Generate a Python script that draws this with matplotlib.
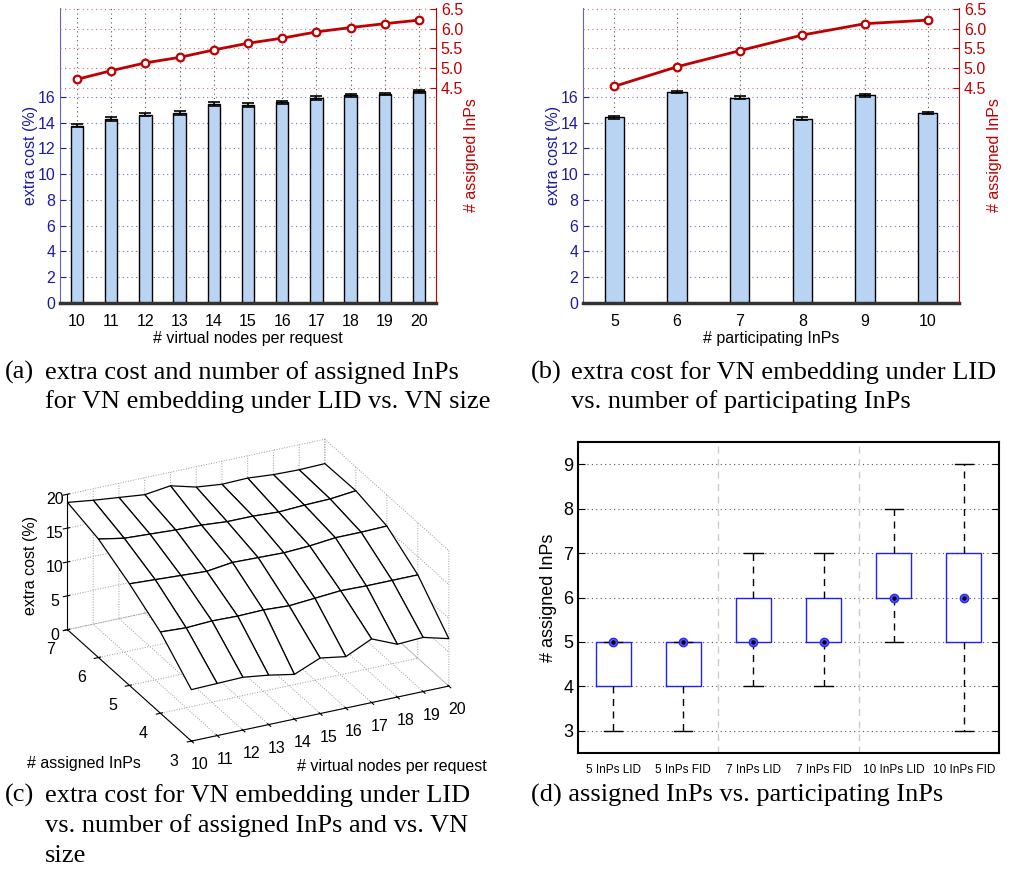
import numpy as np
import matplotlib
matplotlib.use('Agg')
import matplotlib.pyplot as plt
from matplotlib.ticker import FormatStrFormatter

plt.rcParams['font.family'] = ['Liberation Sans', 'DejaVu Sans']

# (a) extra cost / assigned InPs vs VN size
vn_sizes = [10, 11, 12, 13, 14, 15, 16, 17, 18, 19, 20]
cost_a = [13.75, 14.25, 14.6, 14.75, 15.45, 15.38, 15.58, 15.9, 16.12, 16.22, 16.45]
err_a = [0.12, 0.15, 0.12, 0.15, 0.12, 0.14, 0.12, 0.13, 0.1, 0.1, 0.12]
inps_a = [4.71, 4.93, 5.13, 5.27, 5.46, 5.63, 5.76, 5.92, 6.03, 6.13, 6.22]

# (b) extra cost / assigned InPs vs participating InPs
part_inps = [5, 6, 7, 8, 9, 10]
cost_b = [14.42, 16.38, 15.95, 14.32, 16.12, 14.76]
err_b = [0.12, 0.1, 0.1, 0.1, 0.1, 0.1]
inps_b = [4.53, 5.03, 5.44, 5.84, 6.13, 6.22]

# (c) extra cost surface: rows = assigned InPs, cols = VN size
assigned = [3, 4, 5, 6, 7]
cost_c = [
    [7.6, 7.7, 7.8, 7.3, 6.6, 8.2, 7.6, 9.4, 7.8, 8.0, 7.0],
    [12.0, 11.8, 12.0, 11.9, 12.0, 11.8, 12.1, 12.4, 12.3, 12.3, 12.3],
    [15.0, 14.8, 14.6, 14.4, 14.9, 14.8, 14.7, 14.9, 15.3, 15.3, 15.4],
    [17.5, 16.8, 16.6, 16.4, 16.3, 16.0, 16.0, 15.8, 16.0, 16.1, 16.5],
    [18.8, 18.3, 17.9, 17.5, 18.0, 17.0, 16.6, 16.7, 16.4, 16.3, 16.4],
]

# (d) boxplot stats
box_labels = ['5 InPs LID', '5 InPs FID', '7 InPs LID', '7 InPs FID', '10 InPs LID', '10 InPs FID']
whis_lo = [3, 3, 4, 4, 5, 3]
q1 = [4, 4, 5, 5, 6, 5]
med = [5, 5, 5, 5, 6, 6]
q3 = [5, 5, 6, 6, 7, 7]
whis_hi = [5, 5, 7, 7, 8, 9]

BLUE = '#1c1ca0'
BLUE_SP = '#6262bf'
RED = '#c00000'
BARC = '#b9d3f2'

fig = plt.figure(figsize=(10.15, 8.72), dpi=100)


def bar_panel(rect, xs, cost, err, inps, xlabel, width, xlim):
    ax = fig.add_axes(rect)
    ax.bar(xs, cost, width=width, color=BARC, edgecolor='black', linewidth=1.0,
           yerr=err, capsize=4, error_kw=dict(ecolor='black', elinewidth=1.2, capthick=1.2), zorder=2)
    ax.set_xlim(*xlim)
    ax.set_ylim(0, 22.9)
    ax.set_xticks(xs)
    ax.set_yticks(range(0, 17, 2))
    ax.tick_params(axis='y', colors=BLUE, labelsize=11.5, direction='in', length=4)
    ax.tick_params(axis='x', colors='black', labelsize=11.5, direction='in', length=0, pad=8)
    ax.spines['left'].set_color(BLUE_SP)
    ax.spines['top'].set_visible(False)
    ax.spines['right'].set_visible(False)
    ax.spines['bottom'].set_linewidth(2.5)
    ax.spines['bottom'].set_color('#333333')
    ax.set_axisbelow(True)
    ax.xaxis.grid(True, linestyle=(0, (1, 3)), color='#555555', linewidth=0.8)
    ax.yaxis.grid(True, linestyle=(0, (1, 3)), color='#7070d0', linewidth=0.8)
    ax.set_xlabel(xlabel, fontsize=11.5, labelpad=1)
    ax.set_ylabel('extra cost (%)', color=BLUE, fontsize=11.5)
    ax.yaxis.set_label_coords(-0.058, 0.5)

    tw = ax.twinx()
    tw.plot(xs, inps, '-o', color=RED, linewidth=2, markersize=5.5,
            markerfacecolor='white', markeredgewidth=1.6, zorder=3)
    tw.set_ylim(-1.0, 6.53)
    tw.set_yticks([4.5, 5.0, 5.5, 6.0, 6.5])
    tw.yaxis.set_major_formatter(FormatStrFormatter('%.1f'))
    tw.tick_params(axis='y', colors=RED, labelsize=11.5, direction='in', length=4)
    for s in ['left', 'top', 'bottom']:
        tw.spines[s].set_visible(False)
    tw.spines['right'].set_color(RED)
    tw.yaxis.grid(True, linestyle=(0, (1, 3)), color='#e07070', linewidth=0.8)
    tw.set_ylabel('# assigned InPs', color=RED, fontsize=11.5, rotation=90)
    tw.yaxis.set_label_coords(1.074, 0.5)
    return ax


bar_panel([60 / 1015, 1 - 303 / 872, 376 / 1015, 295 / 872], vn_sizes, cost_a, err_a, inps_a,
          '# virtual nodes per request', 0.36, (9.5, 20.5))
bar_panel([583 / 1015, 1 - 303 / 872, 376 / 1015, 295 / 872], part_inps, cost_b, err_b, inps_b,
          '# participating InPs', 0.31, (4.5, 10.5))

# (c) 3D mesh
ax3 = fig.add_axes([-0.031, 0.087, 0.56, 0.46], projection='3d')
X, Y = np.meshgrid(vn_sizes, assigned)
Z = np.array(cost_c)
ax3.plot_surface(X, Y, Z, color='white', edgecolor='black', linewidth=0.9,
                 shade=False, rstride=1, cstride=1)
ax3.set_proj_type('ortho')
ax3.view_init(elev=26, azim=-116)
ax3.set_box_aspect((861, 850, 453), zoom=1.04)
ax3.set_xlim(10, 20)
ax3.set_ylim(3, 7)
ax3.set_zlim(0, 20)
ax3.set_xticks(vn_sizes)
ax3.set_yticks(assigned)
ax3.set_zticks([0, 5, 10, 15, 20])
for a in [ax3.xaxis, ax3.yaxis, ax3.zaxis]:
    a.pane.fill = False
    a.pane.set_edgecolor('white')
    a._axinfo['grid'].update(color='#9a9a9a', linestyle=':', linewidth=0.7)
    a.line.set_linewidth(0.8)
ax3.tick_params(labelsize=11.5, pad=2)
ax3.tick_params(axis='z', pad=-3)
ax3.set_xlabel('')
ax3.set_ylabel('')
ax3.set_zlabel('')
fig.text(30 / 1015, 1 - 565 / 872, 'extra cost (%)', fontsize=11.5, rotation=90, ha='center', va='center')
fig.text(27 / 1015, 1 - 763 / 872, '# assigned InPs', fontsize=11.5, va='center')
fig.text(297 / 1015, 1 - 766 / 872, '# virtual nodes per request', fontsize=11.5, va='center')

# (d) boxplot
axd = fig.add_axes([578 / 1015, 1 - 753 / 872, 421 / 1015, 311 / 872])
stats = []
for i in range(len(box_labels)):
    stats.append(dict(whislo=whis_lo[i], q1=q1[i], med=med[i], q3=q3[i], whishi=whis_hi[i],
                      label=box_labels[i]))
pos = np.arange(1, len(box_labels) + 1)
axd.bxp(stats, positions=pos, widths=0.5, showfliers=False, capwidths=0.26,
        boxprops=dict(color='#2020ff', linewidth=1.0),
        whiskerprops=dict(color='black', linestyle=(0, (5, 4)), linewidth=1.0),
        capprops=dict(color='black', linewidth=1.0),
        medianprops=dict(linewidth=0))
axd.plot(pos, med, 'o', color='#5a5aff', markersize=6, markeredgecolor='#2828ff', zorder=4)
axd.plot(pos, med, 'o', color='black', markersize=2.2, zorder=5)
axd.set_xlim(0.5, 6.5)
axd.set_ylim(2.5, 9.5)
axd.set_yticks(range(3, 10))
axd.axvline(2.5, color='#cccccc', linestyle=(0, (5, 4)), linewidth=1.0)
axd.axvline(4.5, color='#cccccc', linestyle=(0, (5, 4)), linewidth=1.0)
axd.yaxis.grid(True, linestyle=(0, (1, 3)), color='#555555', linewidth=0.8)
axd.set_axisbelow(True)
axd.tick_params(axis='y', labelsize=13, direction='in', right=True, length=5)
axd.tick_params(axis='x', labelsize=8.5, length=0, pad=8)
for s in axd.spines.values():
    s.set_linewidth(1.5)
axd.set_ylabel('# assigned InPs', fontsize=13)

# captions
cap = dict(family=['Liberation Serif', 'DejaVu Serif'], fontsize=19, va='baseline')
fig.text(5 / 1015, 1 - 379 / 872, '(a)', **cap)
fig.text(45 / 1015, 1 - 379 / 872, 'extra cost and number of assigned InPs', **cap)
fig.text(45 / 1015, 1 - 408 / 872, 'for VN embedding under LID vs. VN size', **cap)
fig.text(531 / 1015, 1 - 379 / 872, '(b)', **cap)
fig.text(571 / 1015, 1 - 379 / 872, 'extra cost for VN embedding under LID', **cap)
fig.text(571 / 1015, 1 - 408 / 872, 'vs. number of participating InPs', **cap)
fig.text(5 / 1015, 1 - 802 / 872, '(c)', **cap)
fig.text(45 / 1015, 1 - 802 / 872, 'extra cost for VN embedding under LID', **cap)
fig.text(45 / 1015, 1 - 832 / 872, 'vs. number of assigned InPs and vs. VN', **cap)
fig.text(45 / 1015, 1 - 862 / 872, 'size', **cap)
fig.text(531 / 1015, 1 - 802 / 872, '(d) assigned InPs vs. participating InPs', **cap)

fig.savefig('out.png', dpi=100)
